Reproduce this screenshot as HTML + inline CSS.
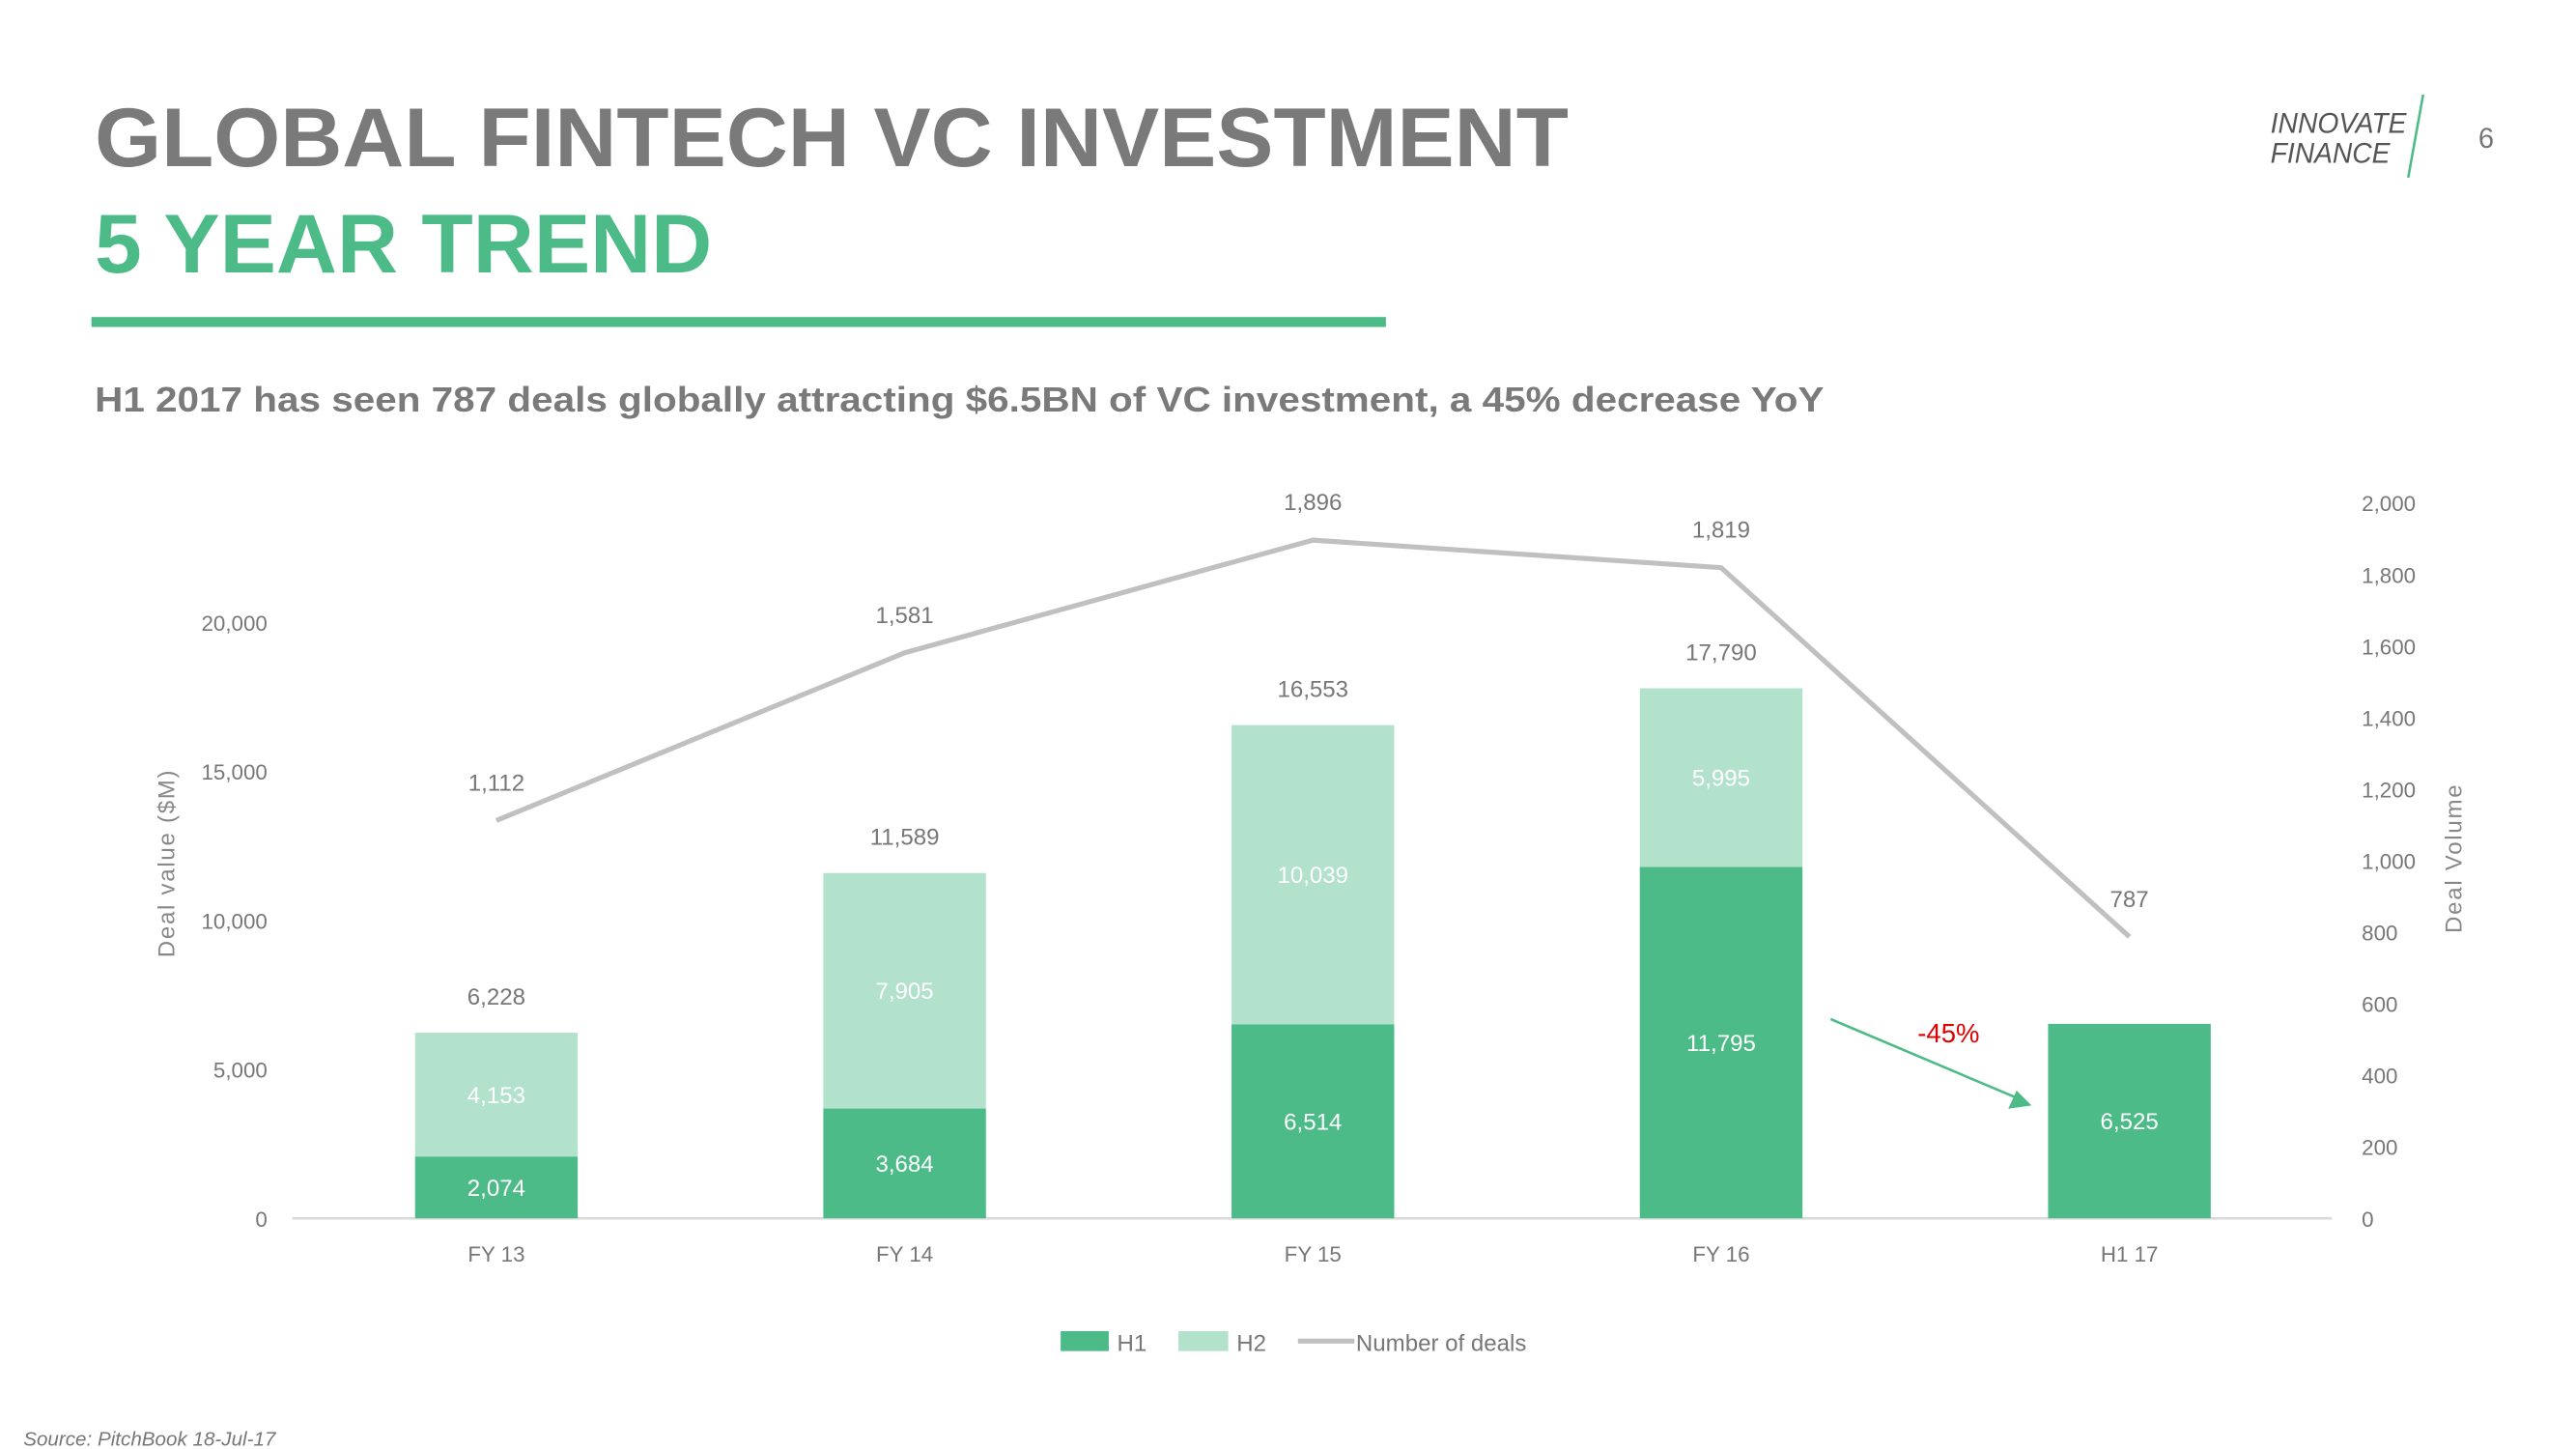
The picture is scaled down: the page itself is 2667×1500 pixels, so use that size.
<!DOCTYPE html>
<html><head><meta charset="utf-8"><style>
html,body{margin:0;padding:0;background:#fff;}
svg{display:block;font-family:"Liberation Sans",sans-serif;}
</style></head><body>
<svg id="chart" width="2667" height="1500" viewBox="0 0 1552 873" xmlns="http://www.w3.org/2000/svg">
<text x="57" y="100" font-size="50" font-weight="bold" fill="#7a7a7a" textLength="888" lengthAdjust="spacingAndGlyphs">GLOBAL FINTECH VC INVESTMENT</text>
<text x="57" y="164" font-size="50" font-weight="bold" fill="#4cbb88" textLength="372" lengthAdjust="spacingAndGlyphs">5 YEAR TREND</text>
<rect x="55" y="191" width="780" height="6" fill="#4cbb88"/>
<text x="57" y="248" font-size="21" font-weight="bold" fill="#7a7a7a" textLength="1042" lengthAdjust="spacingAndGlyphs">H1 2017 has seen 787 deals globally attracting $6.5BN of VC investment, a 45% decrease YoY</text>
<g>
<text x="1368" y="80" font-size="17" font-style="italic" fill="#555" textLength="82" lengthAdjust="spacingAndGlyphs">INNOVATE</text>
<text x="1368" y="98" font-size="17" font-style="italic" fill="#555" textLength="72" lengthAdjust="spacingAndGlyphs">FINANCE</text>
<line x1="1460" y1="57" x2="1451" y2="107" stroke="#4cbb88" stroke-width="1.5"/>
</g>
<text x="1498" y="89" font-size="17" fill="#777" text-anchor="middle">6</text>
<text transform="translate(105,520) rotate(-90)" font-size="14" fill="#888" text-anchor="middle" letter-spacing="1">Deal value ($M)</text>
<text transform="translate(1483,517) rotate(-90)" font-size="14" fill="#888" text-anchor="middle" letter-spacing="1">Deal Volume</text>
<g id="plot"></g>
<g>
<rect x="639" y="802" width="29" height="12" fill="#4cbb88"/>
<text x="673" y="814" font-size="14" fill="#777">H1</text>
<rect x="710" y="802" width="30" height="12" fill="#b2e2cc"/>
<text x="745" y="814" font-size="14" fill="#777">H2</text>
<line x1="782" y1="808" x2="816" y2="808" stroke="#c0c0c0" stroke-width="3"/>
<text x="817" y="814" font-size="14" fill="#777">Number of deals</text>
</g>
<text x="14" y="871" font-size="12" font-style="italic" fill="#777">Source: PitchBook 18-Jul-17</text>
<g>
<line x1="1103" y1="614" x2="1214" y2="661" stroke="#4cbb88" stroke-width="1.5"/>
<polygon points="1224,666 1210,668 1215,657" fill="#4cbb88"/>
<text x="1174" y="628" font-size="16" fill="#e00000" text-anchor="middle">-45%</text>
</g>
</svg>
<script>
const categories = ["FY 13","FY 14","FY 15","FY 16","H1 17"];
const h1Values = [2074, 3684, 6514, 11795, 6525];
const h2Values = [4153, 7905, 10039, 5995, 0];
const totalValues = [6228, 11589, 16553, 17790, 0];
const dealCounts = [1112, 1581, 1896, 1819, 787];
const leftTicks = [0, 5000, 10000, 15000, 20000];
const rightTicks = [0, 200, 400, 600, 800, 1000, 1200, 1400, 1600, 1800, 2000];

const NS = "http://www.w3.org/2000/svg";
const plot = document.getElementById("plot");
const y0 = 734;
const yL = v => y0 - v * (359 / 20000);
const yR = v => y0 - v * (431 / 2000);
const xC = i => 299 + i * 246;
const fmt = v => v.toLocaleString("en-US");
function mk(tag, attrs, parent) {
  const e = document.createElementNS(NS, tag);
  for (const k in attrs) e.setAttribute(k, attrs[k]);
  (parent || plot).appendChild(e);
  return e;
}
function txt(s, attrs) { const t = mk("text", attrs); t.textContent = s; return t; }

leftTicks.forEach(v => {
  const t = txt(fmt(v), {x: 161, y: yL(v) + 5, "font-size": 13, fill: "#777", "text-anchor": "end"});
  
  
});
rightTicks.forEach(v => {
  const t = txt(fmt(v), {x: 1423, y: yR(v) + 5, "font-size": 13, fill: "#777"});
  
  
});
const ax = mk("line", {x1: 176, y1: y0, x2: 1405, y2: y0, stroke: "#d9d9d9", "stroke-width": 1.5});



const bw = 98;
categories.forEach((c, i) => {
  const x = xC(i) - bw / 2;
  const h1top = yL(h1Values[i]);
  const r1 = mk("rect", {x: x, y: h1top, width: bw, height: y0 - h1top, fill: "#4cbb88"});
  
  
  const l1 = txt(fmt(h1Values[i]), {x: xC(i), y: (h1top + y0) / 2 + 5, "font-size": 14, fill: "#fff", "text-anchor": "middle"});
  
  
  if (h2Values[i] > 0) {
    const h2top = yL(h1Values[i] + h2Values[i]);
    const r2 = mk("rect", {x: x, y: h2top, width: bw, height: h1top - h2top, fill: "#b2e2cc"});
    
    
    const l2 = txt(fmt(h2Values[i]), {x: xC(i), y: (h2top + h1top) / 2 + 5, "font-size": 14, fill: "#fff", "text-anchor": "middle"});
    
    
    const lt = txt(fmt(totalValues[i]), {x: xC(i), y: h2top - 17, "font-size": 14, fill: "#777", "text-anchor": "middle"});
    
    
  }
  const cl = txt(c, {x: xC(i), y: 760, "font-size": 13, fill: "#777", "text-anchor": "middle"});
  
  
});

const pts = dealCounts.map((v, i) => xC(i) + "," + yR(v)).join(" ");
const pl = mk("polyline", {points: pts, fill: "none", stroke: "#c0c0c0", "stroke-width": 3, "stroke-linejoin": "round"});


dealCounts.forEach((v, i) => {
  const t = txt(fmt(v), {x: xC(i), y: yR(v) - 18, "font-size": 14, fill: "#777", "text-anchor": "middle"});
  
  
});
</script>
</body></html>
